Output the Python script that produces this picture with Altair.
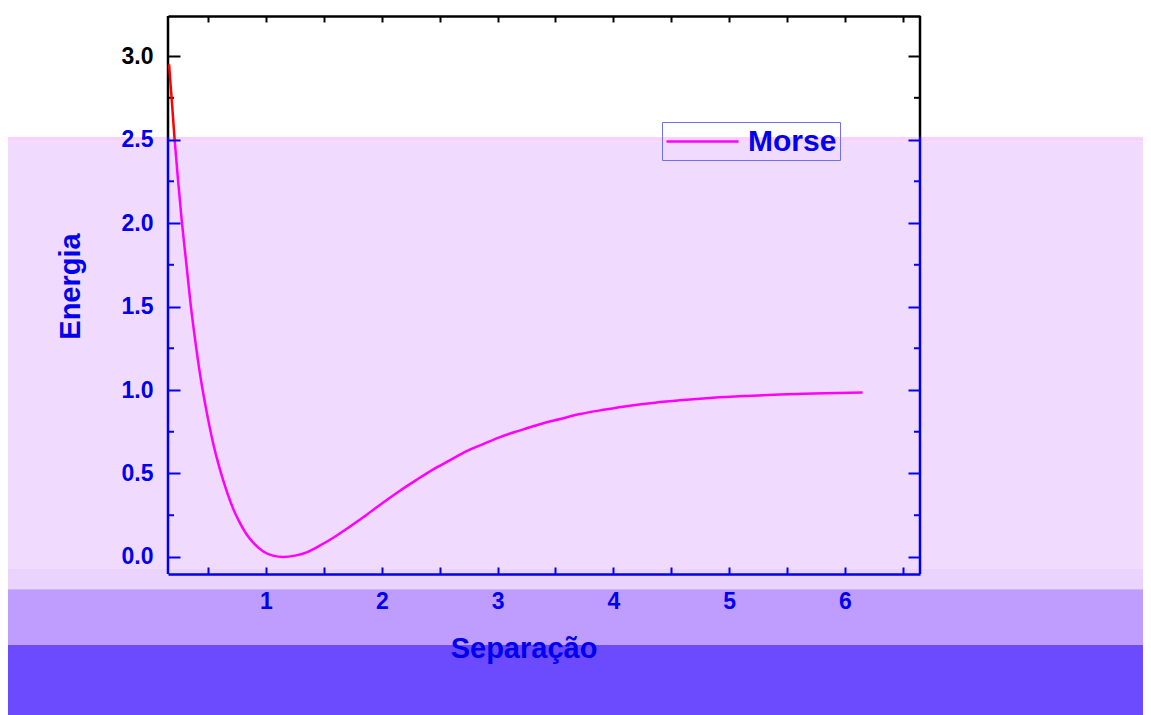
import altair as alt
import pandas as pd

# ---- data ----
sep = [0.163, 0.19, 0.211, 0.24, 0.273, 0.31, 0.348, 0.39, 0.436, 0.49,
       0.544, 0.59, 0.63, 0.67, 0.717, 0.77, 0.833, 0.9, 0.977, 1.06,
       1.149, 1.25, 1.351, 1.46, 1.581, 1.72, 1.87, 2.01, 2.157, 2.3,
       2.445, 2.59, 2.733, 2.88, 3.021, 3.19, 3.366, 3.54, 3.712, 3.93,
       4.143, 4.36, 4.575, 4.86, 5.151, 5.44, 5.726, 6.152]
energia = [2.95, 2.70, 2.50, 2.26, 2.01, 1.77, 1.52, 1.29, 1.07, 0.86,
           0.68, 0.555, 0.46, 0.375, 0.288, 0.21, 0.135, 0.079, 0.033, 0.008,
           0.0, 0.008, 0.028, 0.066, 0.115, 0.18, 0.253, 0.325, 0.397, 0.462,
           0.525, 0.58, 0.634, 0.677, 0.718, 0.757, 0.795, 0.826, 0.856, 0.883,
           0.906, 0.924, 0.938, 0.953, 0.964, 0.973, 0.979, 0.985]
series_name = ["Morse"]

y_major = [0.0, 0.5, 1.0, 1.5, 2.0, 2.5, 3.0]
y_minor = [0.25, 0.75, 1.25, 1.75, 2.25, 2.75]
x_ticks = [0.5, 1.0, 1.5, 2.0, 2.5, 3.0, 3.5, 4.0, 4.5, 5.0, 5.5, 6.0, 6.5]

# background colour bands (in energy units) seen behind the chart
band_top = [2.515, 2.487, -0.068, -0.193, -0.527]
band_bottom = [2.487, -0.068, -0.193, -0.527, -1.4]
band_color = ["#FAD2FB", "#F0DAFE", "#EAD4FD", "#BF9DFE", "#6C4BFF"]
band_left, band_right = -1.5, 9.0
split_level = 2.515  # white upper part / purple lower part

W, H = 752, 558
X_DOM = [0.1537, 6.648]
Y_DOM = [-0.102, 3.24]
BLUE = "#0000ee"
MAGENTA = "#ff00ff"
FONT = "Liberation Sans"

xs = alt.Scale(domain=X_DOM, nice=False, zero=False)
ys = alt.Scale(domain=Y_DOM, nice=False, zero=False)

curve = pd.DataFrame({"sep": sep, "energia": energia, "serie": series_name[0]})
bands = pd.DataFrame({"x0": band_left, "x1": band_right,
                      "y0": band_top, "y1": band_bottom, "c": band_color})
frame = pd.DataFrame({"ys": [split_level]})
minor = pd.DataFrame({"ym": y_minor})
minor["c"] = ["black" if v > split_level else BLUE for v in y_minor]

tick_color = {"condition": {"test": f"datum.value > {split_level}", "value": "black"}, "value": BLUE}

bg = alt.Chart(bands).mark_rect().encode(
    x=alt.X("x0:Q", scale=xs, axis=None), x2="x1:Q",
    y=alt.Y("y0:Q", scale=ys, axis=None), y2="y1:Q",
    color=alt.Color("c:N", scale=None, legend=None),
)

left_axis = alt.Axis(
    orient="left", values=y_major, format=".1f", grid=False, domain=False,
    tickSize={"expr": "-12"}, tickWidth=2, tickColor=tick_color,
    labelColor=tick_color, labelFont=FONT, labelFontSize=23, labelFontWeight="bold",
    labelPadding=27, labelFlush=False, labelOverlap=False,
    title="Energia", titleColor=BLUE, titleFont=FONT, titleFontSize=29,
    titleFontWeight="bold", titleX=-89, titleY=270, titleAngle=270,
    titleAlign="center", titleBaseline="alphabetic", zindex=1,
)
bottom_axis = alt.Axis(
    orient="bottom", values=x_ticks, grid=False,
    labelExpr="datum.value % 1 === 0 ? '' + datum.value : ''",
    domainColor=BLUE, domainWidth=2.5, tickSize={"expr": "-7"}, tickWidth=2,
    tickColor=BLUE, labelColor=BLUE, labelFont=FONT, labelFontSize=23,
    labelFontWeight="bold", labelPadding=23, labelFlush=False, labelOverlap=False,
    title="Separação", titleColor=BLUE, titleFont=FONT, titleFontSize=29,
    titleFontWeight="bold", titleX=355.5, titleY=83, titleAlign="center",
    titleBaseline="alphabetic", zindex=1,
)
right_axis = alt.Axis(
    orient="right", values=y_major, grid=False, domain=False, labels=False,
    tickSize={"expr": "-12"}, tickWidth=2, tickColor=tick_color, title=None, zindex=1,
)
top_axis = alt.Axis(
    orient="top", values=x_ticks, grid=False, labels=False,
    domainColor="black", domainWidth=2.5, tickSize={"expr": "-6"}, tickWidth=2,
    tickColor="black", title=None, zindex=1,
)

legend = alt.Legend(
    title=None, orient="none", legendX=494, legendY=106,
    symbolType="M-1,0H3.8", symbolSize=900, symbolStrokeWidth=2.5,
    labelFont=FONT, labelFontSize=30, labelFontWeight="bold", labelColor=BLUE,
    labelOffset=50, strokeColor="#6f6fef", padding=3, zindex=1,
)

main = alt.Chart(curve).transform_filter("datum.energia <= 2.5").mark_line(
    strokeWidth=2.5, interpolate="monotone"
).encode(
    x=alt.X("sep:Q", scale=xs, axis=bottom_axis),
    y=alt.Y("energia:Q", scale=ys, axis=left_axis),
    color=alt.Color("serie:N", scale=alt.Scale(domain=series_name, range=[MAGENTA]), legend=legend),
)

red = alt.Chart(curve).transform_filter("datum.energia >= 2.5").mark_line(
    strokeWidth=2.5, color="#ff0000", interpolate="monotone"
).encode(
    x=alt.X("sep:Q", scale=xs, axis=top_axis),
    y=alt.Y("energia:Q", scale=ys, axis=right_axis),
)

def frame_rule(xpix, color, up):
    return alt.Chart(frame).mark_rule(strokeWidth=2.5, color=color).encode(
        x=alt.value(xpix),
        y=alt.Y("ys:Q", scale=ys, axis=None),
        y2=alt.value(0 if up else H),
    )

frames = [
    frame_rule(0, BLUE, False), frame_rule(0, "black", True),
    frame_rule(W, BLUE, False), frame_rule(W, "black", True),
]

minor_left = alt.Chart(minor).mark_rule(strokeWidth=2).encode(
    x=alt.value(0), x2=alt.value(6),
    y=alt.Y("ym:Q", scale=ys, axis=None),
    color=alt.Color("c:N", scale=None, legend=None),
)
minor_right = alt.Chart(minor).mark_rule(strokeWidth=2).encode(
    x=alt.value(W - 6), x2=alt.value(W),
    y=alt.Y("ym:Q", scale=ys, axis=None),
    color=alt.Color("c:N", scale=None, legend=None),
)

chart = alt.layer(bg, *frames, minor_left, minor_right, main, red).resolve_axis(
    x="independent", y="independent"
).resolve_scale(color="independent").properties(
    width=W, height=H,
    autosize=alt.AutoSizeParams(type="none"),
    padding={"left": 160, "top": 8, "right": 223, "bottom": 141},
    background="white",
).configure_view(stroke=None)

chart.save("out.html", embed_options={"renderer": "svg", "actions": False})
